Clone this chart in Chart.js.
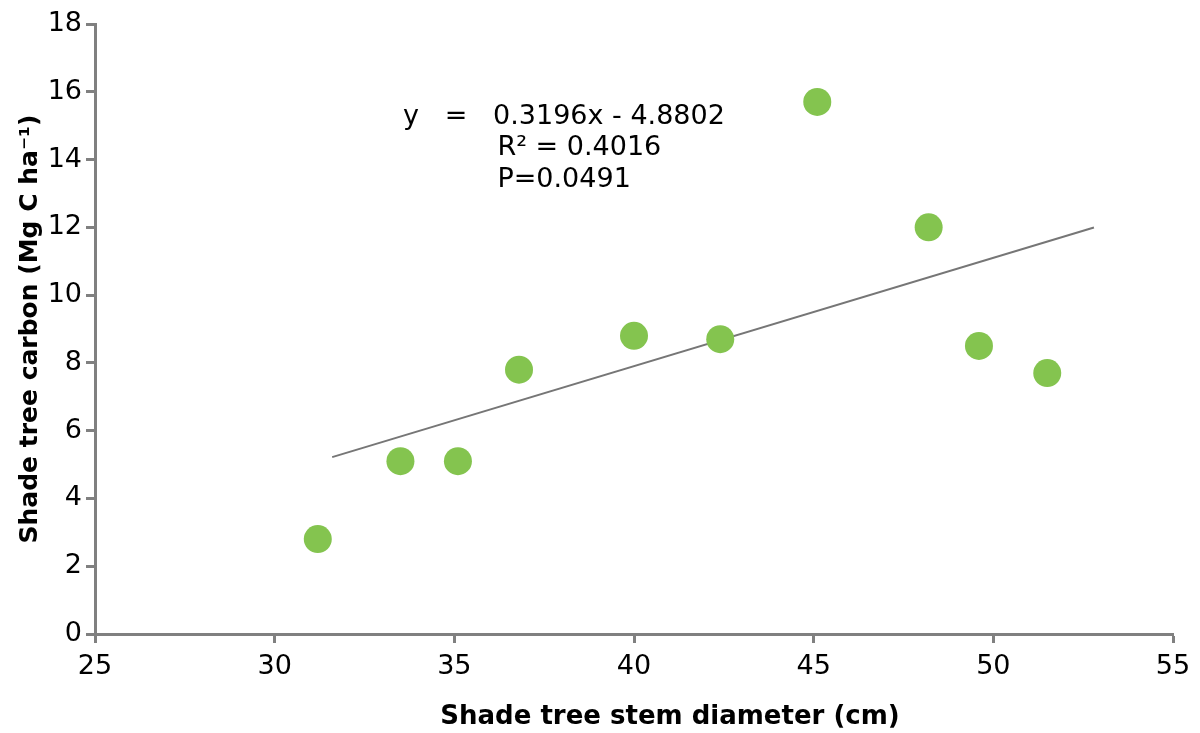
<!DOCTYPE html>
<html>
<head>
<meta charset="utf-8">
<script src="https://cdn.jsdelivr.net/npm/chart.js@4"></script>
<style>
  html, body { margin: 0; padding: 0; background: #fff; }
</style>
</head>
<body>
<canvas id="grafica" width="1200" height="733"></canvas>
<script>
// Diámetro del tallo (cm) y carbono (Mg C/ha) de los árboles de sombra
const diametro = [31.2, 33.5, 35.1, 36.8, 40.0, 42.4, 45.1, 48.2, 49.6, 51.5];
const carbono = [2.8, 5.1, 5.1, 7.8, 8.8, 8.7, 15.7, 12.0, 8.5, 7.7];

// Línea de tendencia
const pendiente = 0.3196;
const intercepto = -4.8802;
const tendenciaX = [31.6, 52.8];

const ticksX = [25, 30, 35, 40, 45, 50, 55];
const ticksY = [0, 2, 4, 6, 8, 10, 12, 14, 16, 18];

const ecuacion = ["y   =   0.3196x - 4.8802", "R² = 0.4016", "P=0.0491"];

const fuente = "'DejaVu Sans', Verdana, sans-serif";
const gris = "#808080";

const puntos = diametro.map((d, i) => ({ x: d, y: carbono[i] }));
const tendencia = tendenciaX.map(x => ({ x: x, y: pendiente * x + intercepto }));

// Textos: ecuación y títulos de los ejes
const textos = {
  id: "textos",
  afterDatasetsDraw(chart) {
    const { ctx, chartArea, scales } = chart;
    ctx.save();
    ctx.fillStyle = "#000";
    ctx.textBaseline = "middle";
    ctx.font = "27px " + fuente;
    ctx.textAlign = "left";
    const x0 = scales.x.getPixelForValue(33.57);
    const x1 = scales.x.getPixelForValue(36.2);
    const y0 = scales.y.getPixelForValue(15.25);
    ctx.fillText(ecuacion[0], x0, y0);
    ctx.fillText(ecuacion[1], x1, y0 + 31);
    ctx.fillText(ecuacion[2], x1, y0 + 63);

    ctx.font = "bold 26px " + fuente;
    ctx.textAlign = "center";
    ctx.fillText("Shade tree stem diameter (cm)", 670, 717);
    ctx.font = "bold 25px " + fuente;
    ctx.translate(30, (chartArea.top + chartArea.bottom) / 2);
    ctx.rotate(-Math.PI / 2);
    ctx.fillText("Shade tree carbon (Mg C ha⁻¹)", 0, 0);
    ctx.restore();
  }
};

const ctx = document.getElementById("grafica").getContext("2d");
new Chart(ctx, {
  type: "scatter",
  data: {
    datasets: [
      {
        label: "Carbono",
        data: puntos,
        backgroundColor: "#84C44F",
        borderWidth: 0,
        pointRadius: 14,
        pointHoverRadius: 14,
      },
      {
        type: "line",
        label: "Tendencia",
        data: tendencia,
        borderColor: "#767676",
        borderWidth: 2,
        pointRadius: 0,
        fill: false,
      },
    ],
  },
  options: {
    responsive: false,
    animation: false,
    layout: { padding: { top: 24, right: 27, left: 0, bottom: 0 } },
    plugins: { legend: { display: false }, tooltip: { enabled: false } },
    scales: {
      x: {
        type: "linear",
        min: 25,
        max: 55,
        afterBuildTicks: s => { s.ticks = ticksX.map(v => ({ value: v })); },
        afterFit: s => { s.height = 99; },
        grid: { drawOnChartArea: false, tickLength: 9, tickWidth: 3, tickColor: gris },
        border: { color: gris, width: 3 },
        ticks: { color: "#000", font: { family: fuente, size: 27 }, padding: 8, maxRotation: 0 },
      },
      y: {
        min: 0,
        max: 18,
        afterBuildTicks: s => { s.ticks = ticksY.map(v => ({ value: v })); },
        afterFit: s => { s.width = 95; },
        grid: { drawOnChartArea: false, tickLength: 9, tickWidth: 3, tickColor: gris },
        border: { color: gris, width: 3 },
        ticks: { color: "#000", font: { family: fuente, size: 27 }, padding: 4 },
      },
    },
  },
  plugins: [textos],
});
</script>
</body>
</html>
